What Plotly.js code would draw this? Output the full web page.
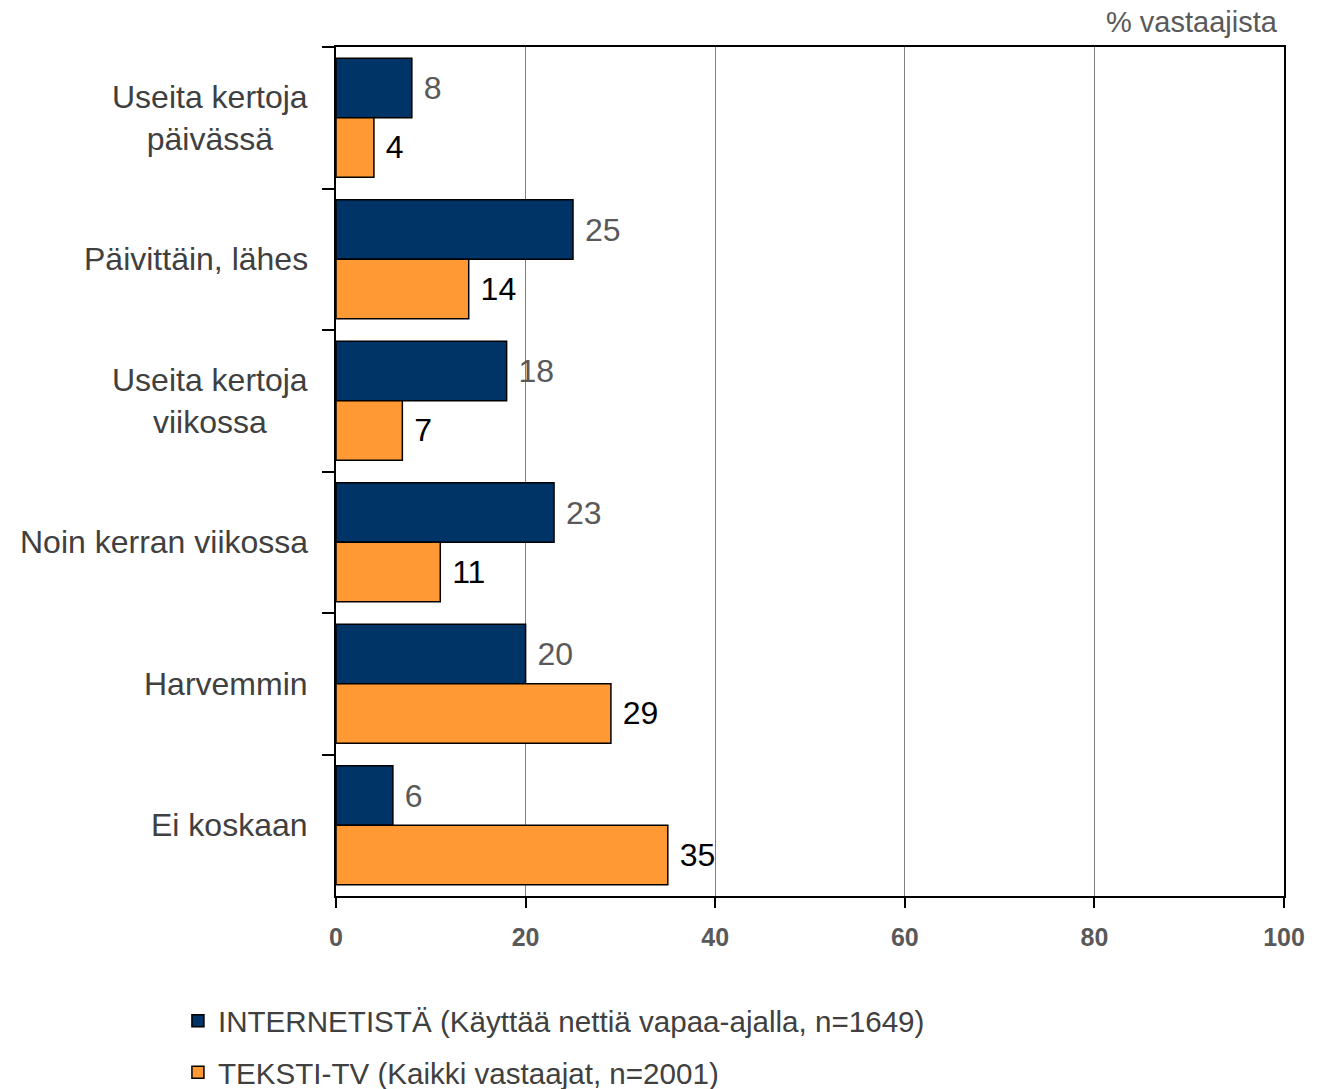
<!DOCTYPE html>
<html>
<head>
<meta charset="utf-8">
<script src="https://cdn.plot.ly/plotly-3.0.1.min.js"></script>
<style>html,body{margin:0;padding:0;background:#fff;}</style>
</head>
<body>
<div id="chart" style="width:1318px;height:1089px;"></div>
<script>
const categories = ["Useita kertoja<br>päivässä", "Päivittäin, lähes", "Useita kertoja<br>viikossa", "Noin kerran viikossa", "Harvemmin", "Ei koskaan"];
const internetValues = [8, 25, 18, 23, 20, 6];
const tekstiValues = [4, 14, 7, 11, 29, 35];
const seriesNames = ["INTERNETISTÄ (Käyttää nettiä vapaa-ajalla, n=1649)", "TEKSTI-TV (Kaikki vastaajat, n=2001)"];
const xTicks = [0, 20, 40, 60, 80, 100];

const font = "Liberation Sans, Arial, sans-serif";

const traces = [
  {
    type: "bar", orientation: "h", name: seriesNames[0],
    y: categories, x: internetValues,
    texttemplate: "\u00a0%{x}", textposition: "outside", cliponaxis: false,
    textfont: {family: font, size: 32, color: "#595959"},
    marker: {color: "#003366", line: {color: "#000", width: 1.5}},
    legendgroup: "a", hoverinfo: "x+y"
  },
  {
    type: "bar", orientation: "h", name: seriesNames[1],
    y: categories, x: tekstiValues,
    texttemplate: "\u00a0%{x}", textposition: "outside", cliponaxis: false,
    textfont: {family: font, size: 32, color: "#000"},
    marker: {color: "#FF9933", line: {color: "#000", width: 1.5}},
    legendgroup: "b", hoverinfo: "x+y"
  }
];

const categoryAnnotations = categories.map(c => ({
  text: c, xref: "paper", yref: "y", x: 0, y: c,
  xanchor: "right", yanchor: "middle", align: "center", xshift: -26,
  showarrow: false, font: {family: font, size: 32, color: "#404040"}
}));

const layout = {
  width: 1318, height: 1089,
  margin: {l: 336, r: 34, t: 47, b: 193, autoexpand: false},
  paper_bgcolor: "#fff", plot_bgcolor: "#fff",
  font: {family: font, color: "#404040"},
  barmode: "group", bargap: 0.16, bargroupgap: 0,
  showlegend: true,
  legend: {
    orientation: "v", xref: "container", yref: "container",
    x: 0.135, xanchor: "left", y: 0.0863, yanchor: "top",
    font: {family: font, size: 29.6, color: "#404040"},
    traceorder: "grouped", tracegroupgap: 10, itemwidth: 30
  },
  xaxis: {
    range: [0, 100], tickvals: xTicks, ticktext: xTicks.map(String),
    showgrid: true, gridcolor: "#808080", gridwidth: 1,
    zeroline: false, showline: true, linecolor: "#000", linewidth: 2, mirror: true,
    ticks: "outside", ticklen: 10, tickcolor: "#000", tickwidth: 2,
    tickfont: {family: font, size: 25, color: "#595959", weight: "bold"},
    ticklabelstandoff: 8, fixedrange: true
  },
  yaxis: {
    type: "category", autorange: "reversed",
    showline: true, linecolor: "#000", linewidth: 2, mirror: true,
    ticks: "outside", ticklen: 12, tickcolor: "#000", tickwidth: 2, tickson: "boundaries",
    showgrid: false, zeroline: false, showticklabels: false, fixedrange: true
  },
  annotations: categoryAnnotations.concat([{
    text: "% vastaajista", xref: "paper", yref: "paper", x: 1.0, y: 1.0,
    xanchor: "right", yanchor: "bottom", yshift: 7, xshift: -4, showarrow: false,
    font: {family: font, size: 29, color: "#595959"}
  }])
};

Plotly.newPlot("chart", traces, layout, {displayModeBar: false, staticPlot: true});
</script>
</body>
</html>
